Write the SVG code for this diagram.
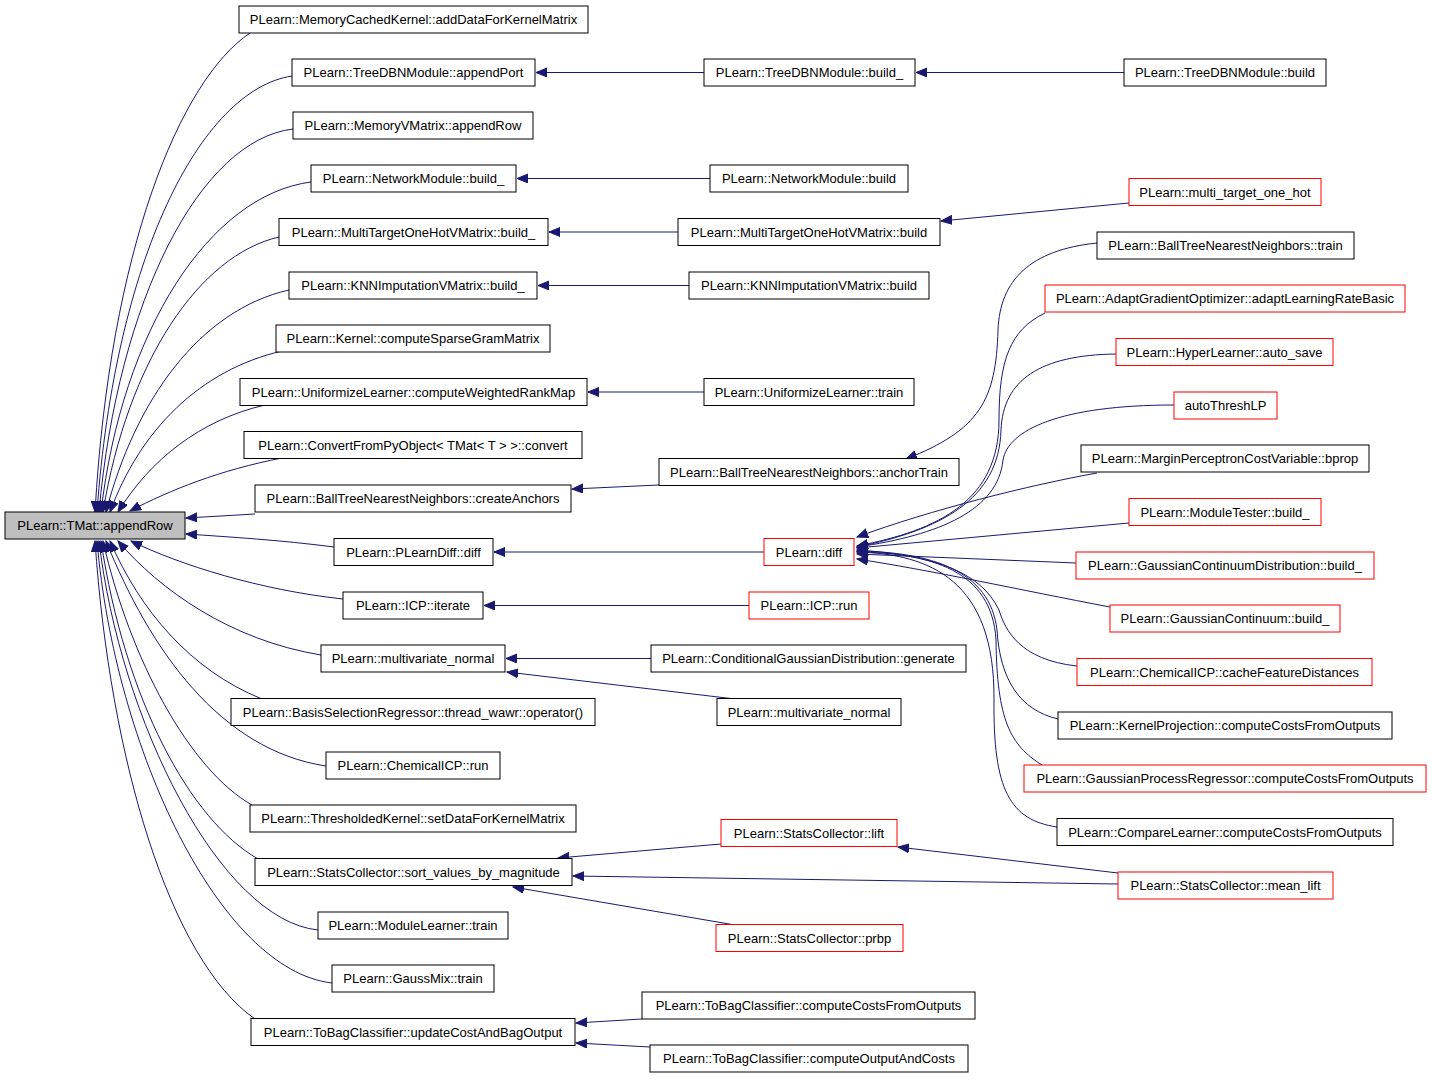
<svg xmlns="http://www.w3.org/2000/svg" width="1432" height="1080" viewBox="0 0 1432 1080">
<defs>
<style>
.n rect{fill:#fff;stroke:#000;stroke-width:1}
.r rect{stroke:#ff0000}
.root rect{fill:#bfbfbf}
text{font-family:"Liberation Sans",Arial,sans-serif;font-size:13px;text-anchor:middle;fill:#000}
#edges path{fill:none;stroke:#191970;stroke-width:1;marker-end:url(#ah)}
</style>
<marker id="ah" markerUnits="userSpaceOnUse" markerWidth="12" markerHeight="10" refX="11" refY="4.5" orient="auto"><path d="M0,0 L11,4.5 L0,9 z" fill="#191970" stroke="#191970"/></marker>
</defs>
<rect width="1432" height="1080" fill="#fff"/>
<g id="edges">
<path d="M250,33 C180,80 110,250 95,512"/>
<path d="M292,76 C200,90 115,260 97,512"/>
<path d="M293,129 C200,140 118,300 99,512"/>
<path d="M311,182 C210,195 122,330 101,512"/>
<path d="M279,237 C200,255 128,360 103,512"/>
<path d="M289,290 C200,310 135,400 106,512"/>
<path d="M282,351 C200,370 140,430 110,512"/>
<path d="M265,405 C200,420 150,460 118,512"/>
<path d="M282,458 C220,470 170,490 130,511"/>
<path d="M255,514 L186,518"/>
<path d="M334,547 C280,540 230,537 186,534"/>
<path d="M343,599 C260,590 180,565 131,541"/>
<path d="M321,655 C230,640 160,590 118,541"/>
<path d="M262,699 C190,670 140,610 110,541"/>
<path d="M326,766 C220,750 150,650 106,541"/>
<path d="M252,805 C190,770 130,660 103,541"/>
<path d="M258,859 C190,820 125,700 101,541"/>
<path d="M318,930 C220,920 120,720 99,541"/>
<path d="M332,983 C220,970 115,750 97,541"/>
<path d="M255,1019 C170,960 110,760 95,541"/>
<path d="M704,72.5 L536,72.5"/>
<path d="M1124,72.5 L916,72.5"/>
<path d="M710,178.5 L517,178.5"/>
<path d="M678,232 L549,232"/>
<path d="M1129,203 L941,221"/>
<path d="M689,285.5 L538,285.5"/>
<path d="M704,392 L588,392"/>
<path d="M659,485 L572,489"/>
<path d="M764,552 L494,552"/>
<path d="M749,605.5 L484,605.5"/>
<path d="M651,658.5 L506,658.5"/>
<path d="M735,699 L507,672"/>
<path d="M721,844 L558,858"/>
<path d="M1118,884 L573,876"/>
<path d="M735,925 L513,887"/>
<path d="M1118,873 L898,847"/>
<path d="M642,1019 L576,1023"/>
<path d="M650,1047 L576,1043"/>
<path d="M1097,243 C1030,250 1000,280 998,330 C996,400 980,430 906,459"/>
<path d="M1045,313 C1010,330 999,360 999,420 C999,500 940,530 857,546"/>
<path d="M1116,354 C1040,355 1003,380 1001,430 C999,500 940,530 857,547"/>
<path d="M1174,405 C1060,405 1008,430 1003,460 C998,510 940,535 857,547"/>
<path d="M1097,473 C1030,485 930,510 857,537"/>
<path d="M1129,523 L857,548"/>
<path d="M1076,563 L857,554"/>
<path d="M1110,607 C1020,590 930,570 857,559"/>
<path d="M1077,666 C1020,660 1005,630 999,610 C980,570 930,555 857,550"/>
<path d="M1058,719 C1020,710 1000,680 997,630 C990,570 930,552 857,551"/>
<path d="M1042,765 C1010,745 997,720 996,640 C992,570 930,553 857,552"/>
<path d="M1057,827 C1010,820 993,790 994,700 C995,580 930,554 857,552"/>
</g>
<g id="root" class="n root"><rect x="5" y="512" width="180" height="27"/><text x="95" y="530">PLearn::TMat::appendRow</text></g>
<g id="n1" class="n"><rect x="239" y="6" width="349" height="27"/><text x="413.5" y="24">PLearn::MemoryCachedKernel::addDataForKernelMatrix</text></g>
<g id="n2" class="n"><rect x="292" y="59" width="243" height="27"/><text x="413.5" y="77">PLearn::TreeDBNModule::appendPort</text></g>
<g id="n3" class="n"><rect x="293" y="112" width="240" height="27"/><text x="413" y="130">PLearn::MemoryVMatrix::appendRow</text></g>
<g id="n4" class="n"><rect x="311" y="165" width="205" height="27"/><text x="413.5" y="183">PLearn::NetworkModule::build_</text></g>
<g id="n5" class="n"><rect x="279" y="218.5" width="269" height="27"/><text x="413.5" y="236.5">PLearn::MultiTargetOneHotVMatrix::build_</text></g>
<g id="n6" class="n"><rect x="289" y="272" width="248" height="27"/><text x="413" y="290">PLearn::KNNImputationVMatrix::build_</text></g>
<g id="n7" class="n"><rect x="276" y="325" width="274" height="27"/><text x="413" y="343">PLearn::Kernel::computeSparseGramMatrix</text></g>
<g id="n8" class="n"><rect x="240" y="378.5" width="347" height="27"/><text x="413.5" y="396.5">PLearn::UniformizeLearner::computeWeightedRankMap</text></g>
<g id="n9" class="n"><rect x="244" y="431.5" width="338" height="27"/><text x="413" y="449.5">PLearn::ConvertFromPyObject&lt; TMat&lt; T &gt; &gt;::convert</text></g>
<g id="n10" class="n"><rect x="255" y="485" width="316" height="27"/><text x="413" y="503">PLearn::BallTreeNearestNeighbors::createAnchors</text></g>
<g id="n11" class="n"><rect x="334" y="538.5" width="159" height="27"/><text x="413.5" y="556.5">PLearn::PLearnDiff::diff</text></g>
<g id="n12" class="n"><rect x="343" y="592" width="140" height="27"/><text x="413" y="610">PLearn::ICP::iterate</text></g>
<g id="n13" class="n"><rect x="321" y="645" width="184" height="27"/><text x="413" y="663">PLearn::multivariate_normal</text></g>
<g id="n14" class="n"><rect x="231" y="698.5" width="364" height="27"/><text x="413" y="716.5">PLearn::BasisSelectionRegressor::thread_wawr::operator()</text></g>
<g id="n15" class="n"><rect x="326" y="752" width="174" height="27"/><text x="413" y="770">PLearn::ChemicalICP::run</text></g>
<g id="n16" class="n"><rect x="250" y="805" width="326" height="27"/><text x="413" y="823">PLearn::ThresholdedKernel::setDataForKernelMatrix</text></g>
<g id="n17" class="n"><rect x="255" y="858.5" width="317" height="27"/><text x="413.5" y="876.5">PLearn::StatsCollector::sort_values_by_magnitude</text></g>
<g id="n18" class="n"><rect x="318" y="912" width="190" height="27"/><text x="413" y="930">PLearn::ModuleLearner::train</text></g>
<g id="n19" class="n"><rect x="332" y="965" width="162" height="27"/><text x="413" y="983">PLearn::GaussMix::train</text></g>
<g id="n20" class="n"><rect x="251" y="1018.5" width="324" height="27"/><text x="413" y="1036.5">PLearn::ToBagClassifier::updateCostAndBagOutput</text></g>
<g id="m1" class="n"><rect x="704" y="59" width="211" height="27"/><text x="809.5" y="77">PLearn::TreeDBNModule::build_</text></g>
<g id="m2" class="n"><rect x="710" y="165" width="198" height="27"/><text x="809" y="183">PLearn::NetworkModule::build</text></g>
<g id="m3" class="n"><rect x="678" y="218.5" width="262" height="27"/><text x="809" y="236.5">PLearn::MultiTargetOneHotVMatrix::build</text></g>
<g id="m4" class="n"><rect x="689" y="272" width="240" height="27"/><text x="809" y="290">PLearn::KNNImputationVMatrix::build</text></g>
<g id="m5" class="n"><rect x="704" y="378.5" width="210" height="27"/><text x="809" y="396.5">PLearn::UniformizeLearner::train</text></g>
<g id="m6" class="n"><rect x="659" y="458.5" width="300" height="27"/><text x="809" y="476.5">PLearn::BallTreeNearestNeighbors::anchorTrain</text></g>
<g id="m7" class="n r"><rect x="764" y="538.5" width="90" height="27"/><text x="809" y="556.5">PLearn::diff</text></g>
<g id="m8" class="n r"><rect x="749" y="592" width="120" height="27"/><text x="809" y="610">PLearn::ICP::run</text></g>
<g id="m9" class="n"><rect x="651" y="645" width="315" height="27"/><text x="808.5" y="663">PLearn::ConditionalGaussianDistribution::generate</text></g>
<g id="m10" class="n"><rect x="717" y="698.5" width="184" height="27"/><text x="809" y="716.5">PLearn::multivariate_normal</text></g>
<g id="m11" class="n r"><rect x="721" y="819.5" width="176" height="27"/><text x="809" y="837.5">PLearn::StatsCollector::lift</text></g>
<g id="m12" class="n r"><rect x="716" y="924.5" width="187" height="27"/><text x="809.5" y="942.5">PLearn::StatsCollector::prbp</text></g>
<g id="m13" class="n"><rect x="642" y="992" width="333" height="27"/><text x="808.5" y="1010">PLearn::ToBagClassifier::computeCostsFromOutputs</text></g>
<g id="m14" class="n"><rect x="650" y="1045" width="318" height="27"/><text x="809" y="1063">PLearn::ToBagClassifier::computeOutputAndCosts</text></g>
<g id="k1" class="n"><rect x="1124" y="59" width="202" height="27"/><text x="1225" y="77">PLearn::TreeDBNModule::build</text></g>
<g id="k2" class="n r"><rect x="1129" y="178.5" width="192" height="27"/><text x="1225" y="196.5">PLearn::multi_target_one_hot</text></g>
<g id="k3" class="n"><rect x="1097" y="232" width="257" height="27"/><text x="1225.5" y="250">PLearn::BallTreeNearestNeighbors::train</text></g>
<g id="k4" class="n r"><rect x="1045" y="285" width="360" height="27"/><text x="1225" y="303">PLearn::AdaptGradientOptimizer::adaptLearningRateBasic</text></g>
<g id="k5" class="n r"><rect x="1116" y="338.5" width="217" height="27"/><text x="1224.5" y="356.5">PLearn::HyperLearner::auto_save</text></g>
<g id="k6" class="n r"><rect x="1174" y="392" width="103" height="27"/><text x="1225.5" y="410">autoThreshLP</text></g>
<g id="k7" class="n"><rect x="1081" y="445" width="288" height="27"/><text x="1225" y="463">PLearn::MarginPerceptronCostVariable::bprop</text></g>
<g id="k8" class="n r"><rect x="1129" y="498.5" width="192" height="27"/><text x="1225" y="516.5">PLearn::ModuleTester::build_</text></g>
<g id="k9" class="n r"><rect x="1076" y="552" width="298" height="27"/><text x="1225" y="570">PLearn::GaussianContinuumDistribution::build_</text></g>
<g id="k10" class="n r"><rect x="1110" y="605" width="230" height="27"/><text x="1225" y="623">PLearn::GaussianContinuum::build_</text></g>
<g id="k11" class="n r"><rect x="1077" y="658.5" width="295" height="27"/><text x="1224.5" y="676.5">PLearn::ChemicalICP::cacheFeatureDistances</text></g>
<g id="k12" class="n"><rect x="1058" y="712" width="334" height="27"/><text x="1225" y="730">PLearn::KernelProjection::computeCostsFromOutputs</text></g>
<g id="k13" class="n r"><rect x="1024" y="765" width="402" height="27"/><text x="1225" y="783">PLearn::GaussianProcessRegressor::computeCostsFromOutputs</text></g>
<g id="k14" class="n"><rect x="1057" y="818.5" width="336" height="27"/><text x="1225" y="836.5">PLearn::CompareLearner::computeCostsFromOutputs</text></g>
<g id="k15" class="n r"><rect x="1118" y="872" width="215" height="27"/><text x="1225.5" y="890">PLearn::StatsCollector::mean_lift</text></g>
</svg>
